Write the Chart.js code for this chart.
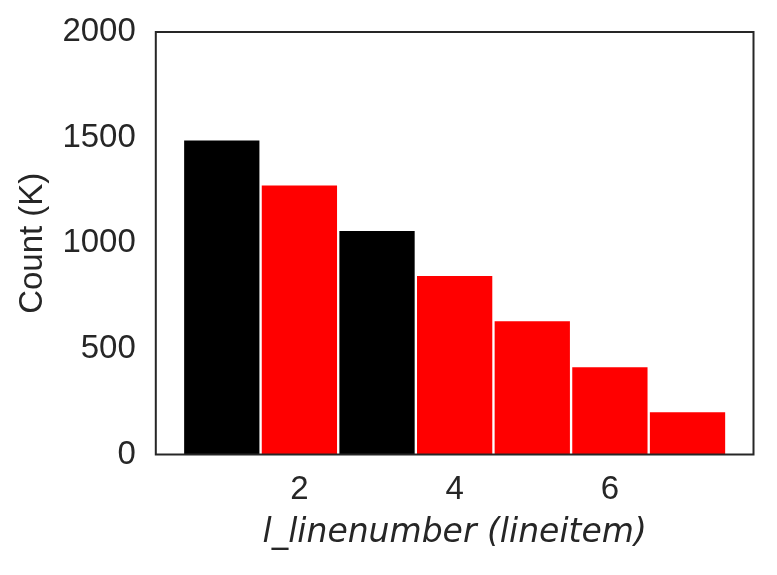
<!DOCTYPE html>
<html lang="en">
<head>
    <meta charset="UTF-8">
    <title>l_linenumber histogram</title>
    <script src="https://cdn.jsdelivr.net/npm/chart.js"></script>
    <style>
        body {
            margin: 0;
            background-color: #ffffff;
            overflow: hidden;
        }
        #wrap {
            width: 777px;
            height: 575px;
        }
    </style>
</head>
<body>
    <div id="wrap">
        <canvas id="histChart" width="777" height="575"></canvas>
    </div>

    <script>
        // line numbers 1 and 3 are drawn black, the rest red
        const blackLineNumbers = [1, 3];
        const blackCounts = [1492, 1063];
        const redLineNumbers = [2, 4, 5, 6, 7];
        const redCounts = [1279, 850, 636, 419, 206];

        const xTicks = [2, 4, 6];
        const yTicks = [0, 500, 1000, 1500, 2000];

        const textColor = '#262626';
        const tickFont = { family: '"Liberation Sans", Arial, sans-serif', size: 33 };

        function points(xs, ys) {
            return xs.map((x, i) => ({ x: x, y: ys[i] }));
        }

        // box round the plot area, like the matplotlib frame
        const framePlugin = {
            id: 'frame',
            afterDatasetsDraw(chart) {
                const { ctx, chartArea } = chart;
                ctx.save();
                ctx.strokeStyle = textColor;
                ctx.lineWidth = 2;
                ctx.strokeRect(chartArea.left, chartArea.top,
                    chartArea.right - chartArea.left, chartArea.bottom - chartArea.top);
                ctx.restore();
            }
        };

        const ctx = document.getElementById('histChart').getContext('2d');
        const chart = new Chart(ctx, {
            type: 'bar',
            data: {
                datasets: [{
                    label: 'black',
                    data: points(blackLineNumbers, blackCounts),
                    backgroundColor: '#000000'
                }, {
                    label: 'red',
                    data: points(redLineNumbers, redCounts),
                    backgroundColor: '#ff0000'
                }]
            },
            options: {
                responsive: false,
                animation: false,
                grouped: false,
                barPercentage: 1,
                categoryPercentage: 1,
                borderColor: '#ffffff',
                borderWidth: 1.5,
                layout: {
                    padding: { top: 32, right: 23.5, left: 0, bottom: 0 }
                },
                scales: {
                    x: {
                        type: 'linear',
                        offset: false,
                        min: 0.15,
                        max: 7.85,
                        afterBuildTicks: (axis) => {
                            axis.ticks = xTicks.map(v => ({ value: v }));
                        },
                        afterFit: (axis) => {
                            axis.height = 120.5;
                            axis.paddingLeft = 0;
                            axis.paddingRight = 0;
                        },
                        grid: { display: false, drawTicks: false },
                        border: { display: false },
                        ticks: {
                            padding: 16,
                            color: textColor,
                            callback: (v) => String(v),
                            font: tickFont
                        },
                        title: {
                            display: true,
                            text: 'l_linenumber (lineitem)',
                            color: textColor,
                            padding: { top: 0, bottom: 22 },
                            font: { family: '"DejaVu Sans", sans-serif', size: 33, style: 'italic' }
                        }
                    },
                    y: {
                        min: 0,
                        max: 2000,
                        afterBuildTicks: (axis) => {
                            axis.ticks = yTicks.map(v => ({ value: v }));
                        },
                        afterFit: (axis) => {
                            axis.width = 155.8;
                            axis.paddingTop = 0;
                            axis.paddingBottom = 0;
                        },
                        grid: { display: false, drawTicks: false },
                        border: { display: false },
                        ticks: {
                            padding: 20,
                            color: textColor,
                            callback: (v) => String(v),
                            font: tickFont
                        },
                        title: {
                            display: true,
                            text: 'Count (K)',
                            color: textColor,
                            padding: { top: 13, bottom: 0 },
                            font: { family: '"Liberation Sans", Arial, sans-serif', size: 33 }
                        }
                    }
                },
                plugins: {
                    legend: { display: false },
                    title: { display: false },
                    tooltip: { enabled: false }
                }
            },
            plugins: [framePlugin]
        });
    </script>
</body>
</html>
